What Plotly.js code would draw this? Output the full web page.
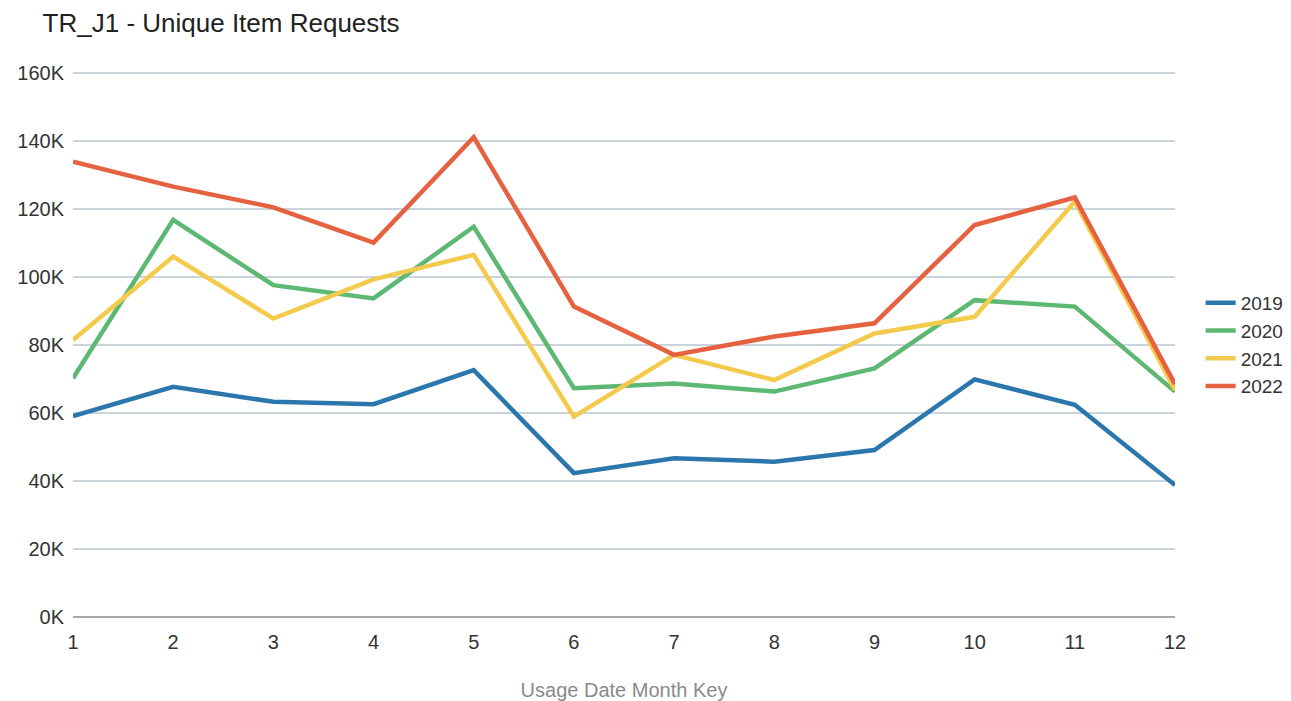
<!DOCTYPE html>
<html>
<head>
<meta charset="utf-8">
<script src="https://cdn.plot.ly/plotly-3.0.1.min.js"></script>
<style>html,body{margin:0;padding:0;background:#fff;}#chart{width:1291px;height:701px;}</style>
</head>
<body>
<div id="chart"></div>
<script>
const months = [1,2,3,4,5,6,7,8,9,10,11,12];
const seriesNames = ["2019","2020","2021","2022"];
const v2019 = [59100,67700,63300,62600,72600,42300,46700,45700,49100,69900,62400,38800];
const v2020 = [70200,116800,97600,93700,114800,67300,68700,66300,73100,93200,91300,66300];
const v2021 = [81500,106000,87800,99300,106500,58900,77100,69700,83400,88300,122200,66800];
const v2022 = [133900,126600,120500,110100,141100,91300,77100,82500,86400,115300,123400,68500];
const colors = ["#2a77ae","#5db873","#f4ca4d","#e6613f"];
const yTickVals = [0,20000,40000,60000,80000,100000,120000,140000,160000];
const yTickText = ["0K","20K","40K","60K","80K","100K","120K","140K","160K"];

const allValues = [v2019,v2020,v2021,v2022];
const traces = allValues.map((vals,i)=>({
  x: months, y: vals, name: seriesNames[i], type: "scatter", mode: "lines",
  line: {color: colors[i], width: 4.5}
}));

const layout = {
  width: 1291, height: 701,
  margin: {l: 73, r: 116, t: 72, b: 84, autoexpand: false},
  paper_bgcolor: "#ffffff", plot_bgcolor: "#ffffff",
  font: {family: "Liberation Sans, Arial, sans-serif", size: 20, color: "#333333"},
  title: {text: "TR_J1 - Unique Item Requests", x: 0.033, xref: "container", xanchor: "left", y: 0.968, yanchor: "middle", yref: "container",
          font: {size: 26, color: "#222222"}},
  xaxis: {range: [1,12], tickvals: months, ticktext: months.map(String), showgrid: false, zeroline: false,
          showline: false, ticks: "", tickfont: {size: 20, color: "#333333"}, ticklabelstandoff: 11, automargin: false,
          title: {text: "Usage Date Month Key", font: {size: 20, color: "#8a8a8a"}, standoff: 30}},
  yaxis: {range: [0,160300], tickvals: yTickVals, ticktext: yTickText, showgrid: true, gridcolor: "#cbd3dd", gridwidth: 1.5,
          zeroline: true, zerolinecolor: "#a8a8a8", zerolinewidth: 2, ticks: "", ticklabelstandoff: 8, automargin: false,
          tickfont: {size: 20, color: "#333333"}},
  showlegend: true,
  legend: {xref: "container", x: 0.930, xanchor: "left", y: 0.5, yanchor: "middle", font: {size: 19, color: "#333333"},
           tracegroupgap: 0, itemwidth: 30, bgcolor: "rgba(0,0,0,0)"}
};

Plotly.newPlot("chart", traces, layout, {displayModeBar: false, staticPlot: true});
</script>
</body>
</html>
